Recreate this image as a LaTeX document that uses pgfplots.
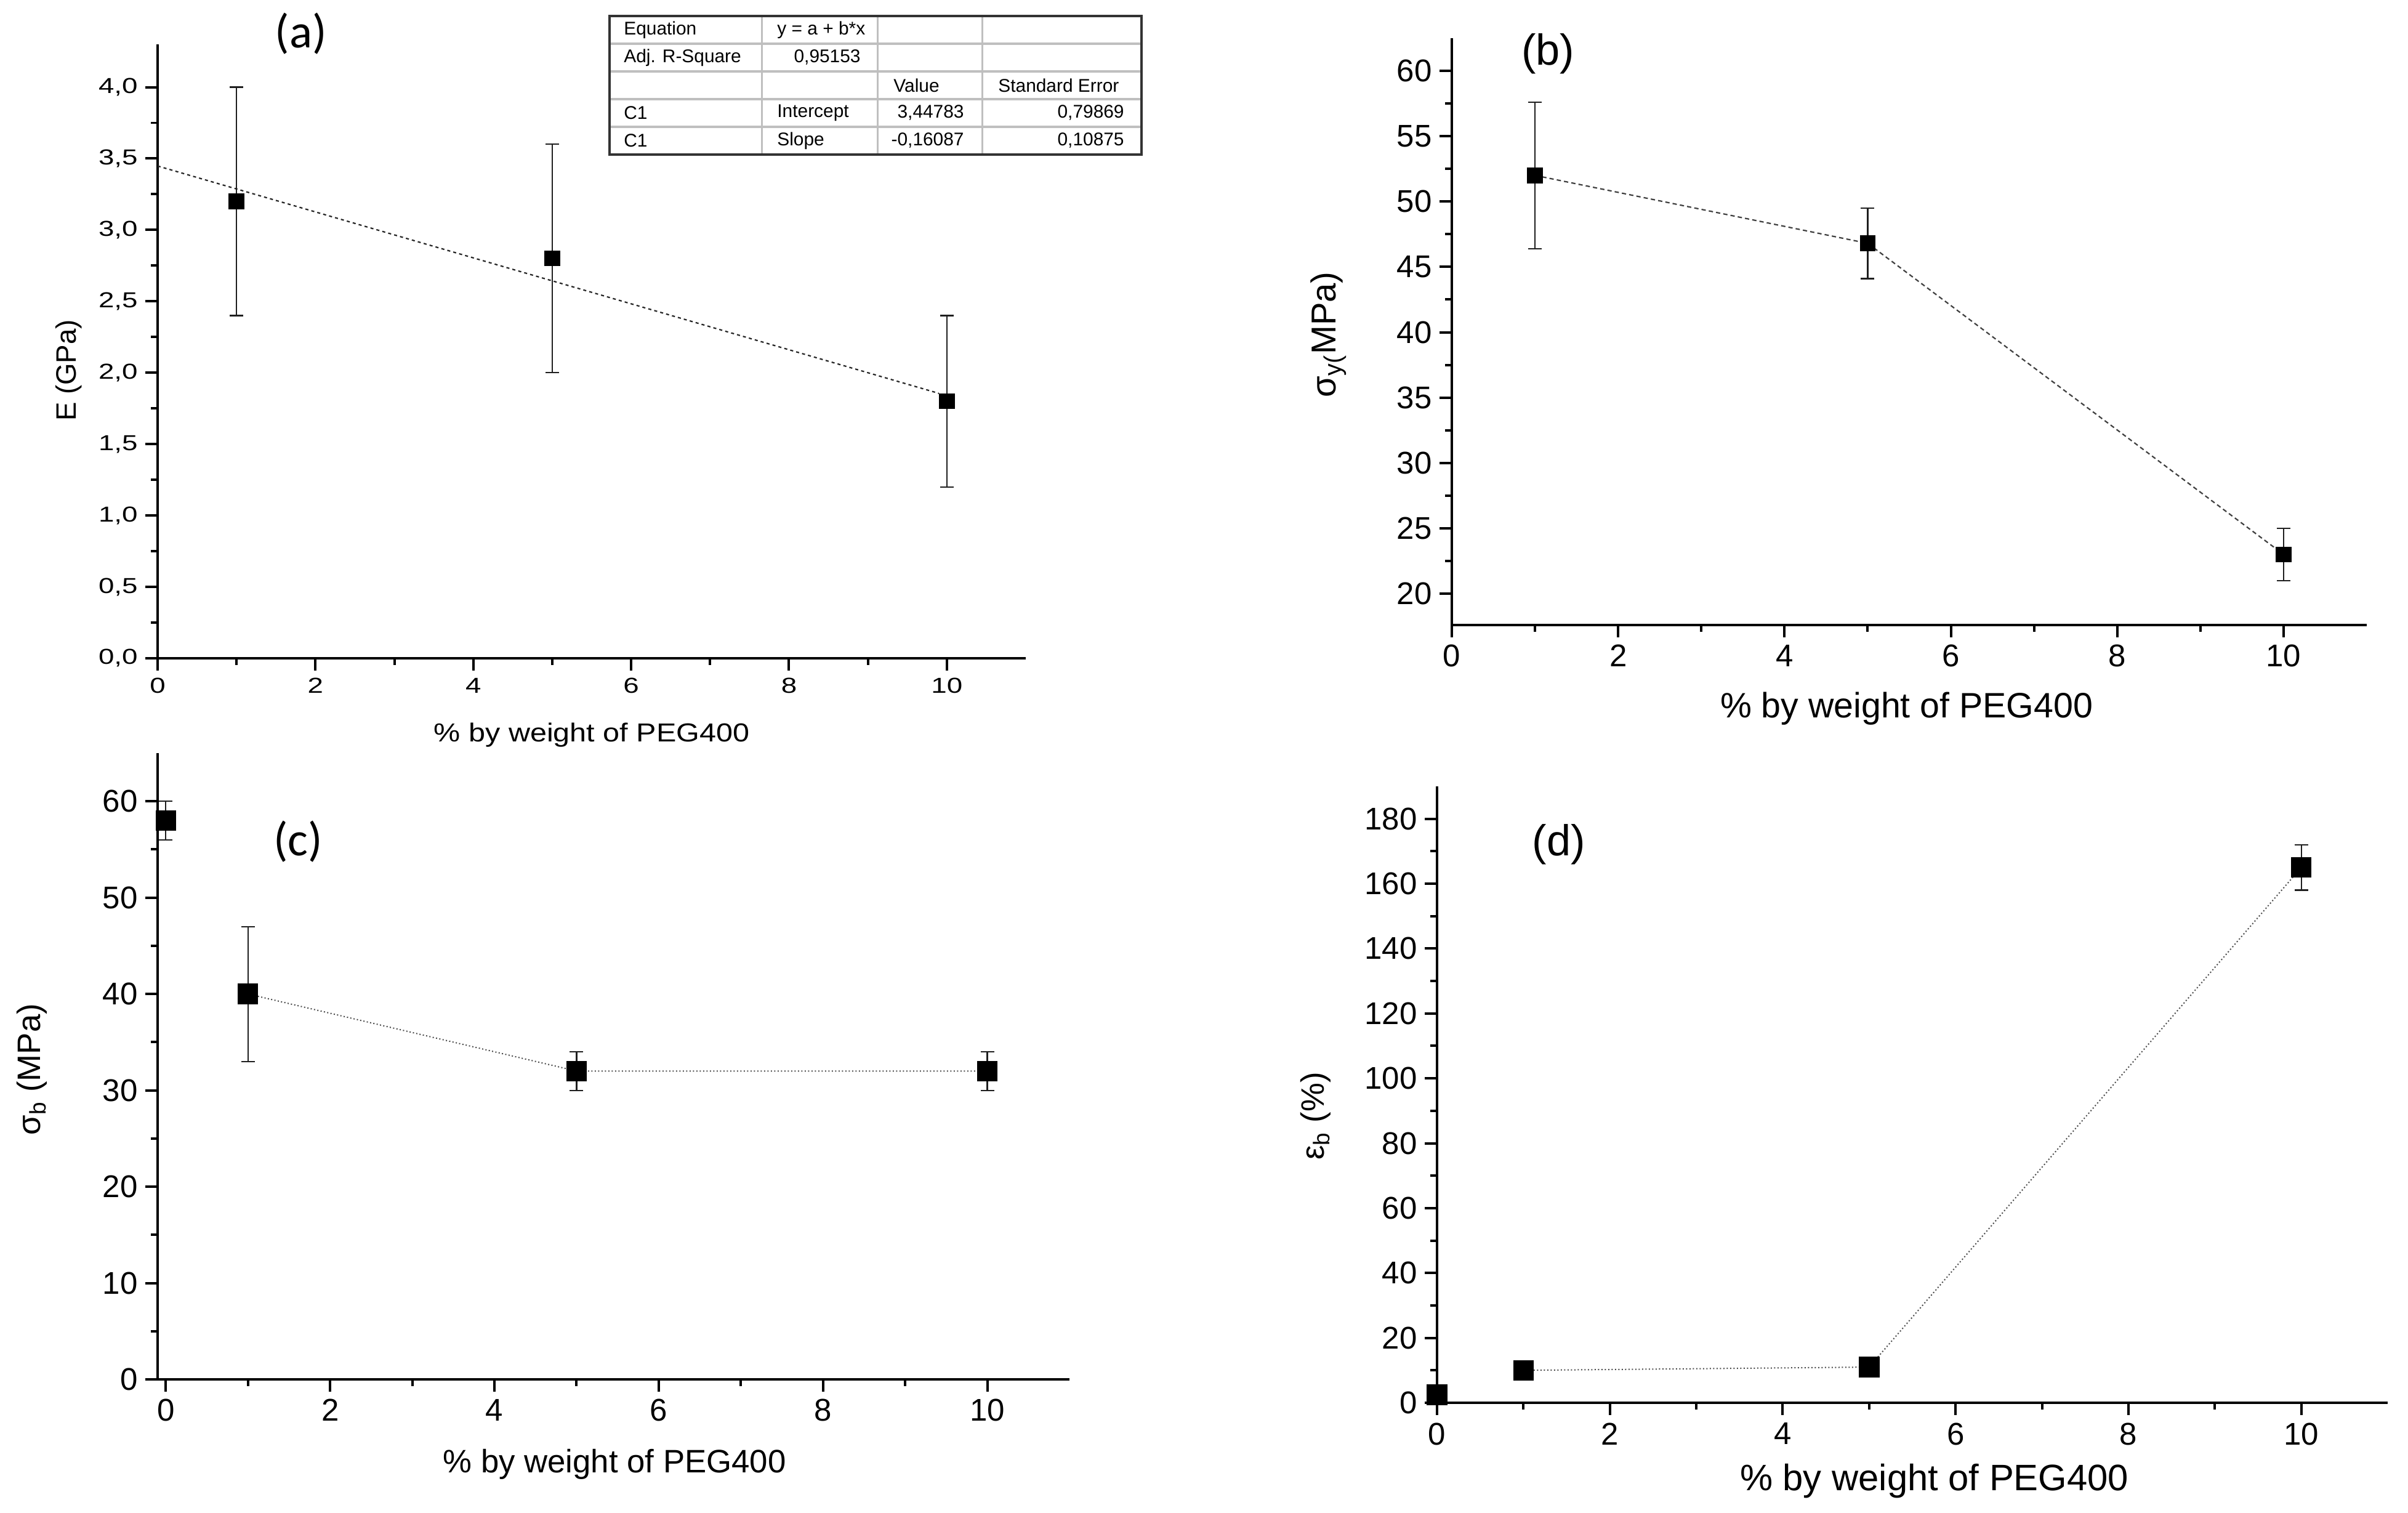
\documentclass[border=0pt]{standalone}
\usepackage{fontspec}
\setmainfont{Liberation Sans}
\newfontfamily\fA{Liberation Sans}[FakeStretch=1.3]
\newfontfamily\fAl{Liberation Sans}[FakeStretch=1.15]
\newfontfamily\ttl{Carlito}
\usepackage{pgfplots}
\pgfplotsset{compat=1.18}
\pgfplotsset{
  peg/.style={
    scale only axis,
    axis x line*=bottom, axis y line*=left,
    axis line style={line width=0.04cm},
    tick align=outside,
    major tick length=0.2cm, minor tick length=0.11cm,
    every tick/.style={line width=0.04cm, black},
    xmin=0, xmax=11, xtick={0,2,...,10}, minor x tick num=1,
    minor y tick num=1,
    /pgf/number format/assume math mode=true,
    clip=false,
    anchor=south west,
  },
  errs/.style={
    black, only marks, mark=square*, mark options={fill=black, draw=black},
    error bars/.cd, y dir=both, y explicit,
    error bar style={line width=0.022cm, black!88, solid},
    error mark options={rotate=90, mark size=0.11cm, line width=0.022cm, black!88},
  },
}
\begin{document}
\begin{tikzpicture}
\path[use as bounding box] (0,0) rectangle (39.11,24.57);

% ---------- (a)
\begin{axis}[peg,
  at={(2.56cm,13.88cm)}, width=14.10cm, height=9.97cm,
  ymin=0, ymax=4.3, ytick={0,0.5,...,4},
  xticklabel style={font=\fA\fontsize{10}{12}\selectfont},
  yticklabel style={font=\fA\fontsize{10}{12}\selectfont,
    /pgf/number format/.cd, use comma, fixed, fixed zerofill, precision=1},
  xlabel={\fAl\fontsize{12}{14}\selectfont \% by weight of PEG400},
  ylabel={\fontsize{13}{15}\selectfont E (GPa)},
  xlabel style={at={(axis description cs:0.5,-0.125)}, anchor=center},
  ylabel style={at={(axis description cs:-0.102,0.469)}, anchor=center},
]
\addplot[black!85, line width=0.022cm, dash pattern=on 0.05cm off 0.05cm] coordinates {(0,3.44783) (9.9,1.8552)};
\addplot[mark size=0.12cm, errs] coordinates {(1,3.2) +- (0,0.8) (5,2.8) +- (0,0.8) (10,1.8) +- (0,0.6)};
\node[font=\ttl\fontsize{22}{24}\selectfont] at (axis description cs:0.165,1.017) {(a)};
\end{axis}

% fit table
\begin{scope}[font=\fontsize{8.5}{10}\selectfont]
\foreach \yy in {23.86,23.41,22.96,22.51} \draw[black!25, line width=0.035cm] (9.90,\yy) -- (18.54,\yy);
\foreach \xx in {12.37,14.25,15.95} \draw[black!25, line width=0.03cm] (\xx,24.31) -- (\xx,22.06);
\draw[black!80, line width=0.035cm] (9.90,22.06) rectangle (18.54,24.31);
\node[anchor=west] at (10.01,24.085) {Equation};
\node[anchor=west] at (12.50,24.085) {y = a + b*x};
\node[anchor=west] at (10.01,23.635) {Adj. R-Square};
\node[anchor=east] at (14.10,23.635) {0,95153};
\node[anchor=west] at (14.39,23.185) {Value};
\node[anchor=west] at (16.09,23.185) {Standard Error};
\node[anchor=west] at (10.01,22.735) {C1};
\node[anchor=west] at (12.50,22.735) {Intercept};
\node[anchor=east] at (15.78,22.735) {3,44783};
\node[anchor=east] at (18.38,22.735) {0,79869};
\node[anchor=west] at (10.01,22.285) {C1};
\node[anchor=west] at (12.50,22.285) {Slope};
\node[anchor=east] at (15.78,22.285) {-0,16087};
\node[anchor=east] at (18.38,22.285) {0,10875};
\end{scope}

% ---------- (b)
\begin{axis}[peg,
  at={(23.58cm,14.42cm)}, width=14.86cm, height=9.53cm,
  ymin=17.6, ymax=62.5, ytick={20,25,...,60},
  tick label style={font=\fontsize{14.5}{16}\selectfont},
  xlabel={\fontsize{16.3}{18}\selectfont \% by weight of PEG400},
  ylabel={\fontsize{16}{18}\selectfont σ\textsubscript{y(}MPa)},
  xlabel style={at={(axis description cs:0.497,-0.142)}, anchor=center},
  ylabel style={at={(axis description cs:-0.135,0.495)}, anchor=center},
]
\addplot[black!75, line width=0.022cm, dash pattern=on 0.07cm off 0.05cm] coordinates {(1,52) (5,46.8) (10,23)};
\addplot[mark size=0.12cm, errs] coordinates {(1,52) +- (0,5.6) (5,46.8) +- (0,2.7) (10,23) +- (0,2)};
\node[font=\fontsize{20}{22}\selectfont] at (axis description cs:0.105,0.973) {(b)};
\end{axis}

% ---------- (c)
\begin{axis}[peg,
  at={(2.56cm,2.17cm)}, width=14.81cm, height=10.17cm,
  xmin=-0.1, ymin=0, ymax=65, ytick={0,10,...,60},
  tick label style={font=\fontsize{14.5}{16}\selectfont},
  xlabel={\fontsize{15}{17}\selectfont \% by weight of PEG400},
  ylabel={\fontsize{15}{17}\selectfont σ\textsubscript{b} (MPa)},
  xlabel style={at={(axis description cs:0.501,-0.136)}, anchor=center},
  ylabel style={at={(axis description cs:-0.138,0.495)}, anchor=center},
]
\addplot[black!70, line width=0.02cm, dash pattern=on 0.02cm off 0.035cm] coordinates {(1,40) (5,32) (10,32)};
\addplot[mark size=0.16cm, errs] coordinates {(0,58) +- (0,2) (1,40) +- (0,7) (5,32) +- (0,2) (10,32) +- (0,2)};
\node[font=\ttl\fontsize{22}{24}\selectfont] at (axis description cs:0.154,0.859) {(c)};
\end{axis}

% ---------- (d)
\begin{axis}[peg,
  at={(23.34cm,1.79cm)}, width=15.44cm, height=10.01cm,
  ymin=0, ymax=190, ytick={0,20,...,180},
  tick label style={font=\fontsize{14.5}{16}\selectfont},
  xlabel={\fontsize{17}{19}\selectfont \% by weight of PEG400},
  ylabel={\fontsize{15}{17}\selectfont ε\textsubscript{b} (\%)},
  xlabel style={at={(axis description cs:0.523,-0.127)}, anchor=center},
  ylabel style={at={(axis description cs:-0.128,0.465)}, anchor=center},
]
\addplot[black!70, line width=0.02cm, dash pattern=on 0.02cm off 0.035cm] coordinates {(1,10) (5,11) (10,165)};
\addplot[mark size=0.16cm, errs] coordinates {(0,2.5) +- (0,1) (1,10) +- (0,1) (5,11) +- (0,1) (10,165) +- (0,7)};
\node[font=\fontsize{20}{22}\selectfont] at (axis description cs:0.128,0.906) {(d)};
\end{axis}
\end{tikzpicture}
\end{document}
